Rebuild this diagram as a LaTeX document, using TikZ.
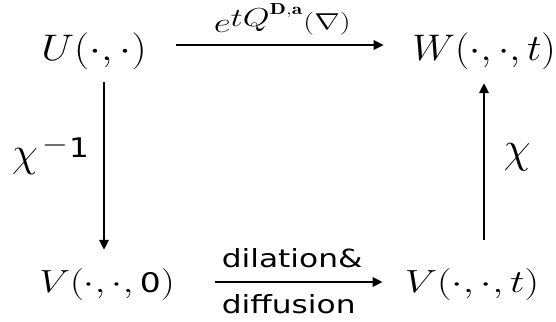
\RequirePackage{fix-cm}
\documentclass[tikz,border=0pt]{standalone}
\usepackage{amsmath}
\usepackage{graphicx}
\usepackage{fontspec}
\setsansfont{DejaVu Sans}
\usetikzlibrary{arrows.meta}
\newcommand{\fs}[1]{\fontsize{#1}{#1}\selectfont}
\begin{document}
\begin{tikzpicture}[x=1pt,y=1pt,
  arr/.style={line width=1.9pt,-{Triangle[length=10pt,width=9.5pt]}},
  mnode/.style={inner sep=0pt,anchor=base},
  txt/.style={inner sep=0pt,font=\sffamily\fontsize{25}{30}\selectfont}]
\useasboundingbox (0,0) rectangle (556,321);
% nodes
\node[mnode] (U) at (94,260) {\scalebox{1.15}[1]{\fs{37}$U(\cdot,\cdot)$}};
\node[mnode] (W) at (484,260) {\scalebox{1.09}[1]{\fs{37}$W(\cdot,\cdot,t)$}};
\node[mnode] (V0) at (107,29) {\scalebox{1.22}[1]{\fs{32}$V(\cdot,\cdot,\mbox{\sffamily\fs{27}0})$}};
\node[mnode] (Vt) at (472,29) {\scalebox{1.28}[1]{\fs{32}$V(\cdot,\cdot,t)$}};
% side labels
\node[inner sep=0pt,anchor=base west] (chiinv) at (12,154)
  {\fs{42}$\chi$\hspace{4pt}\raisebox{14pt}{\scalebox{1.2}[1]{\fs{28}$-$}}\hspace{1pt}\raisebox{9pt}{\scalebox{1.15}[1]{\sffamily\fs{27}1}}};
\node[inner sep=0pt,anchor=base] (chi) at (517,158) {\fs{44}$\chi$};
% connectors
\coordinate (t1) at ([xshift=29.5pt,yshift=6.75pt]U.east);
\draw[arr,shorten >=28.5pt] (t1) --
  node[midway,anchor=base,inner sep=0pt,xshift=-12pt,yshift=12pt] (lab)
  {\scalebox{1.33}[1]{\fs{28}$e$\raisebox{6pt}{\fs{26}$tQ$}\raisebox{18pt}{\fs{16}$\mathbf{D{,}a}$}\hspace{1pt}\raisebox{3.5pt}{\fs{23}$(\nabla)$}}}
  (t1 -| W.west);
\coordinate (l1) at ([xshift=10pt,yshift=-12pt]U.south);
\draw[arr,shorten >=18pt] (l1) -- (l1 |- V0.north);
\coordinate (r1) at ([xshift=12pt,yshift=28pt]Vt.north);
\draw[arr,shorten >=12.75pt] (r1) -- (r1 |- W.south);
\coordinate (b1) at ([xshift=40pt,yshift=2pt]V0.east);
\draw[arr,shorten >=22pt] (b1) --
  node[pos=0,txt,anchor=base west,xshift=6pt,yshift=15pt] (d1) {\scalebox{1.25}[1]{dilation\&}}
  node[pos=0,txt,anchor=base west,xshift=6pt,yshift=-31pt] (d2) {\scalebox{1.25}[1]{diffusion}}
  (b1 -| Vt.west);
\end{tikzpicture}
\end{document}
